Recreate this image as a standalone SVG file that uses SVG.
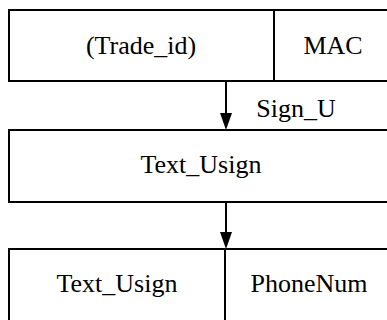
<svg xmlns="http://www.w3.org/2000/svg" width="387" height="320" viewBox="0 0 387 320">
<style>
.box{fill:#fff;stroke:#000;stroke-width:2}
.ln{stroke:#000;stroke-width:2;fill:none}
.t{font-family:"Liberation Serif","Times New Roman",serif;font-size:26px;fill:#000;text-anchor:middle}
</style>
<g id="node1">
<rect class="box" x="9" y="10" width="384" height="71"/>
<line class="ln" x1="274" y1="10" x2="274" y2="81"/>
<text class="t" x="141" y="54">(Trade_id)</text>
<text class="t" x="333" y="54">MAC</text>
</g>
<g id="node2">
<rect class="box" x="9" y="130" width="384" height="72"/>
<text class="t" x="201" y="173">Text_Usign</text>
</g>
<g id="node3">
<rect class="box" x="9" y="249" width="384" height="80"/>
<line class="ln" x1="225" y1="249" x2="225" y2="330"/>
<text class="t" x="117" y="292">Text_Usign</text>
<text class="t" x="309" y="292">PhoneNum</text>
</g>
<g id="connectors">
<line class="ln" x1="226" y1="81" x2="226" y2="114"/>
<path d="M220,113 L232,113 L226,130 Z" fill="#000"/>
<text class="t" x="296" y="117">Sign_U</text>
<line class="ln" x1="226" y1="202" x2="226" y2="233"/>
<path d="M220,232 L232,232 L226,249 Z" fill="#000"/>
</g>
</svg>
